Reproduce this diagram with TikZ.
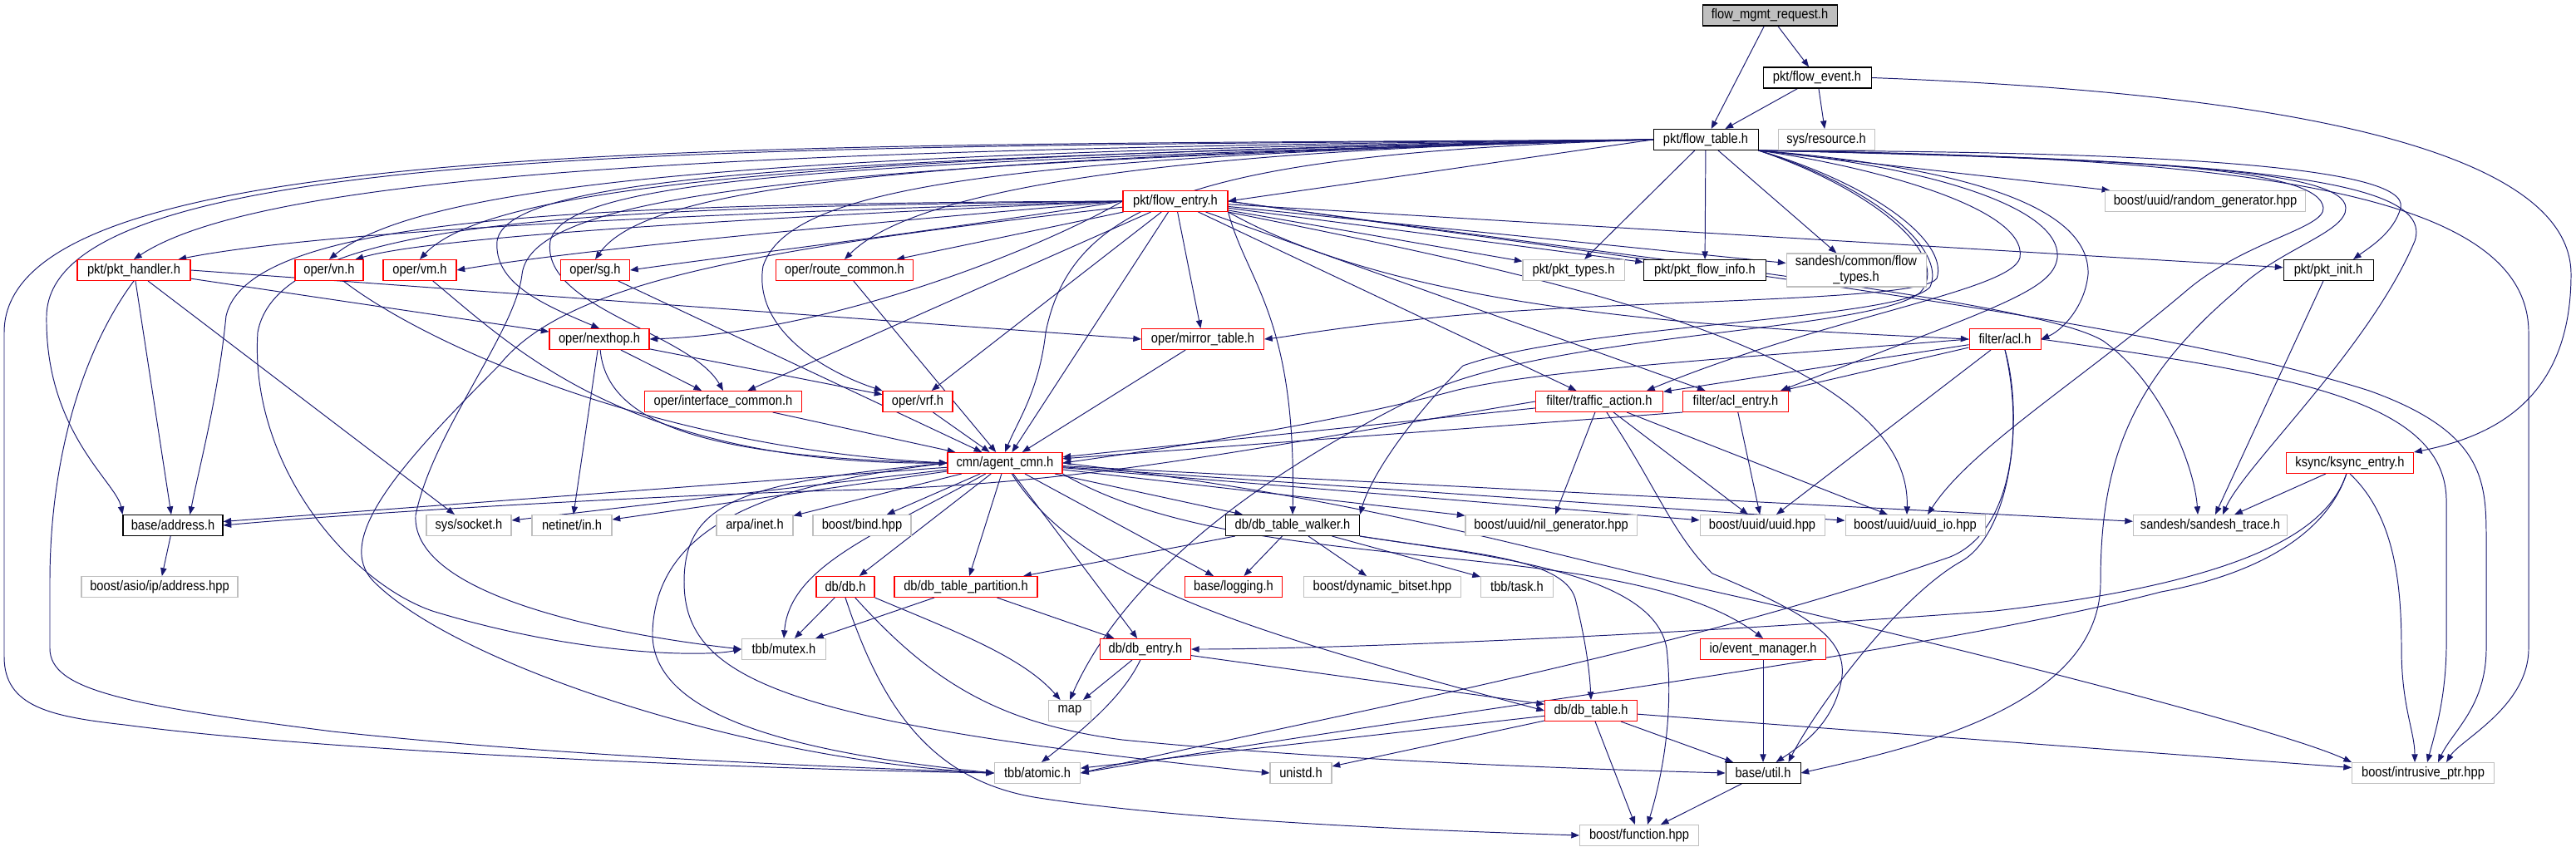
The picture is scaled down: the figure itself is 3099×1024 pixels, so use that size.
\documentclass[tikz,border=0pt]{standalone}
\usepackage{fontspec}
\setmainfont{Liberation Sans}[FakeStretch=0.88]
\usetikzlibrary{arrows.meta,calc,backgrounds}
\definecolor{edgec}{HTML}{191970}
\definecolor{rednode}{HTML}{FF0000}
\definecolor{graynode}{HTML}{BFBFBF}
\definecolor{rootfill}{HTML}{BFBFBF}
\begin{document}
\begin{tikzpicture}[x=0.02cm,y=-0.02cm,
  nb/.style={draw, line width=0.6pt, fill=white, minimum height=0.5cm, inner sep=1pt, font=\fontsize{9.5}{11}\selectfont},
  rn/.style={nb, draw=rednode},
  bn/.style={nb, draw=black},
  gn/.style={nb, draw=graynode},
  wd/.style={minimum width=#1*0.02cm},
  e/.style={draw=edgec, line width=0.55pt, -{Triangle[length=5.5pt,width=4.2pt]}}]
\useasboundingbox (0,0) rectangle (3099,1024);
% nodes
\node[nb, draw=black, fill=rootfill, wd=162] (root) at (2129,18.5) {flow\_mgmt\_request.h};
\node[bn,wd=130] (fev) at (2186,93.5) {pkt/flow\_event.h};
\node[bn,wd=126] (ft) at (2052,168) {pkt/flow\_table.h};
\node[gn,wd=116] (sysres) at (2197,168) {sys/resource.h};
\node[rn,wd=126] (fen) at (1414,242) {pkt/flow\_entry.h};
\node[gn,wd=241] (rgen) at (2653,242) {boost/uuid/random\_generator.hpp};
\node[rn,wd=136] (pkth) at (161,325) {pkt/pkt\_handler.h};
\node[rn,wd=82] (vn) at (396,325) {oper/vn.h};
\node[rn,wd=88] (vm) at (505,325) {oper/vm.h};
\node[rn,wd=83] (sg) at (716,325) {oper/sg.h};
\node[rn,wd=165] (rtc) at (1016,325) {oper/route\_common.h};
\node[gn,wd=122] (ptypes) at (1893,325) {pkt/pkt\_types.h};
\node[bn,wd=147] (pfi) at (2051,325) {pkt/pkt\_flow\_info.h};
\node[gn,wd=168,minimum height=0.8cm,align=center] (sft) at (2233,325) {sandesh/common/flow\\\_types.h};
\node[bn,wd=108] (pinit) at (2801,325) {pkt/pkt\_init.h};
\node[rn,wd=120] (nh) at (721,408) {oper/nexthop.h};
\node[rn,wd=147] (mir) at (1447,408) {oper/mirror\_table.h};
\node[rn,wd=86] (acl) at (2412,408) {filter/acl.h};
\node[rn,wd=189] (ifc) at (870,483) {oper/interface\_common.h};
\node[rn,wd=84] (vrf) at (1104,483) {oper/vrf.h};
\node[rn,wd=153] (tact) at (1924,483) {filter/traffic\_action.h};
\node[rn,wd=127] (acle) at (2088,483) {filter/acl\_entry.h};
\node[rn,wd=138] (agent) at (1209,557) {cmn/agent\_cmn.h};
\node[rn,wd=153] (ksync) at (2827,557) {ksync/ksync\_entry.h};
\node[bn,wd=120] (addr) at (208,632) {base/address.h};
\node[gn,wd=102] (sock) at (564,632) {sys/socket.h};
\node[gn,wd=96] (netin) at (688,632) {netinet/in.h};
\node[gn,wd=92] (arpa) at (908,632) {arpa/inet.h};
\node[gn,wd=118] (bind) at (1037,632) {boost/bind.hpp};
\node[bn,wd=161] (dtw) at (1555,632) {db/db\_table\_walker.h};
\node[gn,wd=206] (nil) at (1866,632) {boost/uuid/nil\_generator.hpp};
\node[gn,wd=150] (uuid) at (2120,632) {boost/uuid/uuid.hpp};
\node[gn,wd=168] (uuidio) at (2304,632) {boost/uuid/uuid\_io.hpp};
\node[gn,wd=185] (strace) at (2659,632) {sandesh/sandesh\_trace.h};
\node[gn,wd=188] (asio) at (192,706) {boost/asio/ip/address.hpp};
\node[rn,wd=70] (db) at (1017,706) {db/db.h};
\node[rn,wd=172] (dtp) at (1162,706) {db/db\_table\_partition.h};
\node[rn,wd=117] (log) at (1484,706) {base/logging.h};
\node[gn,wd=189] (bits) at (1663,706) {boost/dynamic\_bitset.hpp};
\node[gn,wd=87] (task) at (1825,706) {tbb/task.h};
\node[gn,wd=101] (mutex) at (943,781) {tbb/mutex.h};
\node[rn,wd=109] (dbe) at (1378,781) {db/db\_entry.h};
\node[rn,wd=151] (evm) at (2121,781) {io/event\_manager.h};
\node[gn,wd=51] (map) at (1287,855) {map};
\node[rn,wd=111] (dbt) at (1914,855) {db/db\_table.h};
\node[gn,wd=103] (atomic) at (1248,930) {tbb/atomic.h};
\node[gn,wd=74] (unistd) at (1565,930) {unistd.h};
\node[bn,wd=90] (util) at (2121,930) {base/util.h};
\node[gn,wd=143] (func) at (1972,1005) {boost/function.hpp};
\node[gn,wd=171] (intr) at (2915,930) {boost/intrusive\_ptr.hpp};
\begin{scope}[on background layer]
\fill[white] (0,0) rectangle (3099,1024);
% root and flow_event
\draw[e] (root) -- (ft);
\draw[e] (root) -- (fev);
\draw[e] (fev) -- (ft);
\draw[e] (fev) -- (sysres);
\draw[e] (fev.east) .. controls (2700,110) and (3093,170) .. (3093,330) .. controls (3093,480) and (3000,525) .. (ksync.north east);
% flow_table, left side
\draw[e] (ft.west) -- (fen.east);
\draw[e] (ft.west) .. controls (1000,178) and (330,200) .. (pkth.north);
\draw[e] (ft.west) .. controls (1000,182) and (520,212) .. (vn.north);
\draw[e] (ft.west) .. controls (1000,186) and (590,222) .. (vm.north);
\draw[e] (ft.west) .. controls (1100,190) and (780,222) .. (sg.north);
\draw[e] (ft.west) .. controls (1400,180) and (1100,228) .. (rtc.north);
\draw[e] (ft.west) .. controls (1000,190) and (610,210) .. (598,290) .. controls (594,340) and (650,365) .. (nh.north);
\draw[e] (ft.west) .. controls (1000,194) and (680,215) .. (662,290) .. controls (650,370) and (830,400) .. (ifc.north);
\draw[e] (ft.west) .. controls (1200,188) and (950,225) .. (918,320) .. controls (905,400) and (1000,450) .. (vrf.north west);
\draw[e] (ft.west) .. controls (1450,185) and (1290,240) .. (1258,400) .. controls (1250,470) and (1225,505) .. (agent.north);
\draw[e] (ft.west) .. controls (900,178) and (60,168) .. (56,380) .. controls (54,520) and (140,580) .. (addr.north west);
\draw[e] (ft.west) .. controls (900,176) and (5,160) .. (5,400) -- (5,790) .. controls (5,850) and (60,862) .. (150,872) .. controls (400,905) and (900,925) .. (atomic.west);
\draw[e] (ft.west) .. controls (1000,196) and (640,230) .. (628,330) .. controls (620,400) and (520,520) .. (500,620) .. controls (495,720) and (750,765) .. (mutex.west);
% flow_table, downward and right
\draw[e] (ft) -- (ptypes);
\draw[e] (ft) -- (pfi);
\draw[e] (ft) -- (sft);
\draw[e] (ft.south east) -- (rgen);
\draw[e] (ft.south east) .. controls (2600,182) and (2900,200) .. (2888,250) .. controls (2880,280) and (2850,298) .. ($(pinit.north)+(30,0)$);
\draw[e] (ft.south east) .. controls (2350,200) and (2515,245) .. (2512,330) .. controls (2508,370) and (2480,398) .. (acl.east);
\draw[e] (ft.south east) .. controls (2300,198) and (2480,245) .. (2475,310) .. controls (2470,350) and (2400,370) .. ($(acle.north east)+(-10,0)$);
\draw[e] (ft.south east) .. controls (2250,200) and (2440,250) .. (2430,310) .. controls (2420,350) and (2200,380) .. ($(tact.north east)+(-20,0)$);
\draw[e] (ft.south east) .. controls (2700,192) and (2930,215) .. (2905,290) .. controls (2850,420) and (2700,560) .. ($(strace.north)+(15,0)$);
\draw[e] (ft.south east) .. controls (2700,188) and (3042,230) .. (3042,400) -- (3042,780) .. controls (3042,850) and (2960,890) .. ($(intr.north)+(28,0)$);
\draw[e] (ft.south east) .. controls (2600,192) and (2820,205) .. (2822,250) .. controls (2823,280) and (2740,300) .. (2690,350) .. controls (2560,460) and (2527,560) .. (2527,700) .. controls (2527,850) and (2300,900) .. (util.east);
\draw[e] (ft.south east) .. controls (2600,190) and (2790,205) .. (2795,250) .. controls (2797,275) and (2700,290) .. (2630,350) .. controls (2500,460) and (2370,540) .. ($(uuidio.north)+(15,0)$);
\draw[e] (ft.south east) .. controls (2250,220) and (2345,290) .. (2330,335) .. controls (2310,365) and (1900,360) .. (1700,385) .. controls (1600,395) and (1550,405) .. (mir.east);
\draw[e] (ft.south east) .. controls (2255,225) and (2342,300) .. (2322,345) .. controls (2290,385) and (1900,390) .. (1760,440) .. controls (1700,500) and (1650,570) .. (dtw.north east);
\draw[e] (ft.south east) .. controls (2260,230) and (2348,310) .. (2310,352) .. controls (2250,400) and (1850,400) .. (1700,480) .. controls (1500,580) and (1350,700) .. (map.north);
% flow_entry
\draw[e] (fen.west) .. controls (900,255) and (400,275) .. ($(pkth.north east)+(-15,0)$);
\draw[e] (fen.west) .. controls (900,262) and (520,285) .. ($(vn.north east)+(-10,0)$);
\draw[e] (fen.west) .. controls (1000,272) and (700,300) .. (vm.east);
\draw[e] (fen.west) .. controls (1100,282) and (900,305) .. (sg.east);
\draw[e] (fen) -- (rtc);
\draw[e] (fen) -- (ptypes);
\draw[e] (fen) -- (pfi);
\draw[e] (fen) -- (sft);
\draw[e] (fen) -- (pinit);
\draw[e] (fen.west) .. controls (1250,300) and (1000,400) .. (nh.east);
\draw[e] (fen) -- (mir);
\draw[e] (fen) -- (ifc);
\draw[e] (fen) -- (vrf);
\draw[e] (fen) -- (agent);
\draw[e] (fen) -- (tact);
\draw[e] (fen) -- (acle);
\draw[e] (fen.south east) .. controls (1700,380) and (2100,395) .. (acl.west);
\draw[e] (fen.south east) .. controls (1500,340) and (1560,380) .. (dtw.north);
\draw[e] (fen.south east) .. controls (1850,330) and (2300,420) .. ($(uuidio.north)+(-10,0)$);
\draw[e] (fen.east) .. controls (2100,330) and (2600,390) .. (2850,470) .. controls (2990,520) and (2991,580) .. (2991,650) -- (2991,780) .. controls (2991,850) and (2950,880) .. ($(intr.north)+(18,0)$);
\draw[e] (fen.east) .. controls (2000,315) and (2450,362) .. (2530,410) .. controls (2600,460) and (2640,560) .. ($(strace.north)+(-15,0)$);
\draw[e] (fen.west) .. controls (700,245) and (300,260) .. (272,380) .. controls (262,480) and (240,560) .. ($(addr.north east)+(-40,0)$);
\draw[e] (fen.west) .. controls (700,250) and (335,262) .. (310,400) .. controls (300,560) and (420,700) .. (520,735) .. controls (700,790) and (850,790) .. (mutex.west);
\draw[e] (fen) .. controls (900,300) and (680,340) .. (600,440) .. controls (480,560) and (400,650) .. (450,700) .. controls (550,800) and (900,915) .. (atomic.west);
% pkt_handler
\draw[e] (pkth) -- (addr);
\draw[e] (pkth) -- (sock);
\draw[e] (pkth) -- (nh);
\draw[e] (pkth.east) -- (mir.west);
\draw[e] (pkth.south) .. controls (100,420) and (60,550) .. (60,700) -- (60,780) .. controls (60,830) and (150,848) .. (400,880) .. controls (700,912) and (1000,922) .. (atomic.west);
% oper
\draw[e] (vn) .. controls (520,420) and (800,540) .. (agent.west);
\draw[e] (vm) .. controls (620,420) and (760,560) .. (agent.west);
\draw[e] (sg) -- (agent);
\draw[e] (rtc) -- (agent);
\draw[e] (nh) -- (netin);
\draw[e] (nh) .. controls (730,510) and (850,550) .. (agent.west);
\draw[e] (nh) -- (ifc);
\draw[e] (nh) -- (vrf);
\draw[e] (ifc) -- (agent);
\draw[e] (vrf) -- (agent);
\draw[e] (mir) -- (agent);
% filter
\draw[e] (acl) -- (tact);
\draw[e] (acl) -- (acle);
\draw[e] (acl) -- (uuid);
\draw[e] (acl.west) .. controls (2100,430) and (1850,445) .. (1750,470) .. controls (1600,510) and (1400,540) .. (agent.east);
\draw[e] (acl.south) .. controls (2435,520) and (2420,640) .. (2346,670) .. controls (2000,790) and (1600,860) .. (atomic.east);
\draw[e] (acl.south) .. controls (2435,500) and (2420,640) .. (2360,675) .. controls (2280,720) and (2180,860) .. ($(util.north east)+(-15,0)$);
\draw[e] (acl.east) .. controls (2750,450) and (2940,480) .. (2943,600) -- (2943,780) .. controls (2942,840) and (2930,880) .. ($(intr.north)+(5,0)$);
\draw[e] (tact) -- (agent);
\draw[e] (tact.west) .. controls (1500,540) and (1300,585) .. (1000,590) .. controls (700,600) and (400,620) .. (addr.east);
\draw[e] (tact) -- (nil);
\draw[e] (tact) -- (uuid);
\draw[e] (tact) -- (uuidio);
\draw[e] (tact) .. controls (1990,580) and (2010,640) .. (2060,690) .. controls (2180,740) and (2225,770) .. (2215,820) .. controls (2205,870) and (2170,895) .. ($(util.north east)+(-30,0)$);
\draw[e] (acle.south west) -- (agent);
\draw[e] (acle) -- (uuid);
% ksync, pkt_init
\draw[e] (pinit) -- (strace);
\draw[e] (ksync) -- (strace);
\draw[e] (ksync) .. controls (2800,640) and (2700,700) .. (2400,735) .. controls (2000,765) and (1600,781) .. (dbe.east);
\draw[e] (ksync) .. controls (2800,640) and (2720,690) .. (2600,712) .. controls (2300,790) and (1700,860) .. (atomic.east);
\draw[e] (ksync.south) .. controls (2880,620) and (2889,700) .. (2889,780) .. controls (2889,850) and (2905,880) .. ($(intr.north)+(-10,0)$);
% agent_cmn
\draw[e] (agent) -- (addr);
\draw[e] (agent) -- (sock);
\draw[e] (agent) -- (netin);
\draw[e] (agent) -- (arpa);
\draw[e] (agent) -- (bind);
\draw[e] (agent) -- (db);
\draw[e] (agent) -- (dtp);
\draw[e] (agent) -- (dbe);
\draw[e] (agent) -- (log);
\draw[e] (agent) -- (dtw);
\draw[e] (agent) -- (nil);
\draw[e] (agent) -- (uuid);
\draw[e] (agent) -- (uuidio);
\draw[e] (agent) -- (strace);
\draw[e] (agent) .. controls (1060,640) and (950,680) .. (mutex.north);
\draw[e] (agent) .. controls (1300,700) and (1500,760) .. (dbt.west);
\draw[e] (agent.south east) .. controls (1500,700) and (1950,640) .. (evm.north);
\draw[e] (agent.west) .. controls (900,580) and (823,600) .. (823,700) .. controls (823,820) and (950,870) .. (unistd.west);
\draw[e] (agent.west) .. controls (950,580) and (790,620) .. (785,760) .. controls (782,860) and (950,905) .. (atomic.west);
\draw[e] (agent.east) .. controls (1650,600) and (1850,665) .. (2100,720) .. controls (2400,790) and (2750,880) .. (intr.north west);
% db layer
\draw[e] (dtw) -- (dtp);
\draw[e] (dtw) -- (log);
\draw[e] (dtw) -- (bits);
\draw[e] (dtw) -- (task);
\draw[e] (dtw.south east) .. controls (1760,665) and (1880,670) .. (1895,720) .. controls (1905,760) and (1912,800) .. (dbt.north);
\draw[e] (dtw.south east) .. controls (1800,670) and (1990,690) .. (2005,780) .. controls (2015,870) and (1995,950) .. ($(func.north)+(10,0)$);
\draw[e] (db) -- (mutex);
\draw[e] (db.south east) .. controls (1150,760) and (1230,790) .. (map);
\draw[e] (db.south) .. controls (1060,850) and (1120,940) .. (1250,960) .. controls (1450,990) and (1750,1000) .. (func.west);
\draw[e] (db) .. controls (1120,820) and (1200,870) .. (1350,890) .. controls (1600,915) and (1900,925) .. (util.west);
\draw[e] (dtp) -- (mutex);
\draw[e] (dtp) -- (dbe);
\draw[e] (dbe) -- (map);
\draw[e] (dbe) .. controls (1350,840) and (1300,880) .. ($(atomic.north)+(5,0)$);
\draw[e] (dbe) -- (dbt);
\draw[e] (dbt) -- (atomic);
\draw[e] (dbt) -- (unistd);
\draw[e] (dbt) -- (util);
\draw[e] (dbt) -- (func);
\draw[e] (dbt) -- (intr);
\draw[e] (evm) -- (util);
\draw[e] (util) -- (func);
\draw[e] (addr) -- (asio);
\end{scope}
\end{tikzpicture}
\end{document}
